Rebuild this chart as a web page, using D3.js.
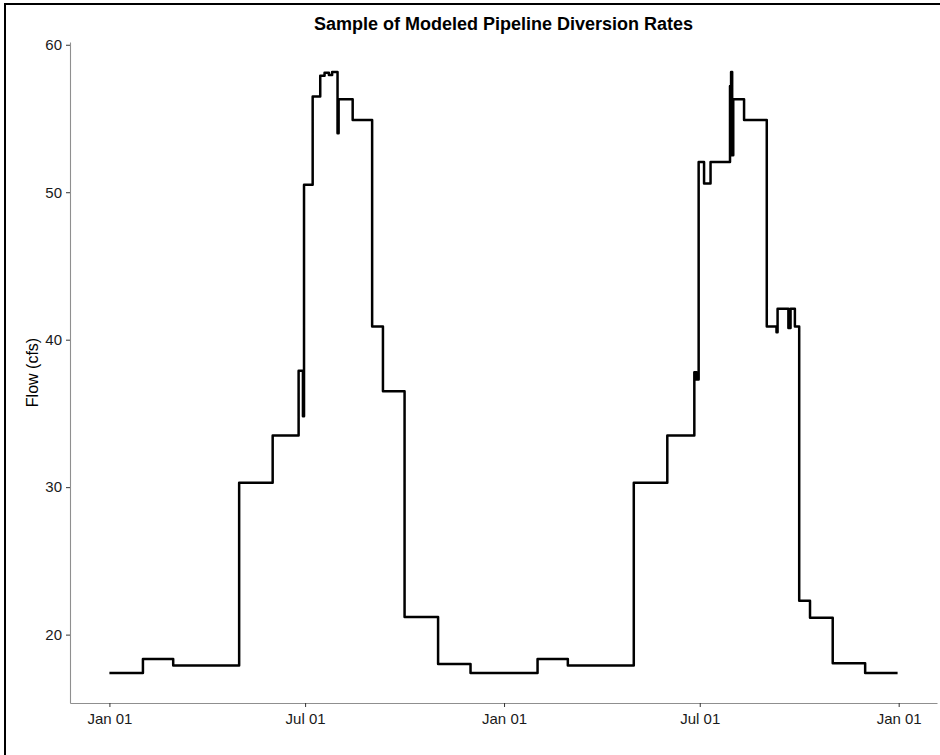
<!DOCTYPE html>
<html>
<head>
<meta charset="utf-8">
<script src="https://cdn.jsdelivr.net/npm/d3@7"></script>
<style>
  html, body { margin: 0; padding: 0; background: #fff; }
  svg { display: block; }
</style>
</head>
<body>
<svg id="chart" width="940" height="755"></svg>
<script>
// Modeled pipeline diversion (cfs): each entry starts a new flow level
const changeDates = [
  "2017-01-01", "2017-02-01", "2017-03-01", "2017-05-01", "2017-06-01",
  "2017-06-25", "2017-06-29", "2017-06-30", "2017-07-08", "2017-07-15",
  "2017-07-19", "2017-07-23", "2017-07-26", "2017-07-31", "2017-08-01",
  "2017-08-14", "2017-09-01", "2017-09-11", "2017-10-01", "2017-11-01",
  "2017-12-01",
  "2018-02-01", "2018-03-01", "2018-05-01", "2018-06-01", "2018-06-26",
  "2018-06-28", "2018-06-30", "2018-07-05", "2018-07-11", "2018-07-29",
  "2018-07-30", "2018-07-31", "2018-08-01", "2018-08-11", "2018-09-01",
  "2018-09-10", "2018-09-11", "2018-09-21", "2018-09-23", "2018-09-27",
  "2018-10-01", "2018-10-11", "2018-11-01", "2018-12-01", "2018-12-31"
];
const flowValues = [
  17.4, 18.35, 17.9, 30.3, 33.5,
  37.9, 34.8, 50.5, 56.5, 57.9,
  58.1, 57.95, 58.15, 54.0, 56.3,
  54.9, 40.9, 36.5, 21.2, 18.0,
  17.4,
  18.35, 17.9, 30.3, 33.5, 37.8,
  37.3, 52.05, 50.6, 52.05, 57.2,
  58.15, 52.5, 56.3, 54.9, 40.9,
  40.5, 42.1, 40.8, 42.1, 40.9,
  22.3, 21.15, 18.05, 17.4, 17.4
];
const xTickDates = ["2017-01-01", "2017-07-01", "2018-01-01", "2018-07-01", "2019-01-01"];
const yTickValues = [20, 30, 40, 50, 60];
const titleText = "Sample of Modeled Pipeline Diversion Rates";
const yTitleText = "Flow (cfs)";

const parse = d3.utcParse("%Y-%m-%d");
const series = changeDates.map((d, i) => ({ date: parse(d), flow: flowValues[i] }));

const svg = d3.select("#chart");
const panel = { left: 70, right: 937, top: 42, bottom: 703 };

// outer frame
svg.append("rect")
  .attr("x", 5).attr("y", 4)
  .attr("width", 1200).attr("height", 1200)
  .attr("fill", "none").attr("stroke", "#000").attr("stroke-width", 2);

// scales with 5% padding on both ends of the data range
const xExt = d3.extent(series, d => d.date);
const xPad = (xExt[1] - xExt[0]) * 0.05;
const x = d3.scaleUtc()
  .domain([new Date(+xExt[0] - xPad), new Date(+xExt[1] + xPad)])
  .range([panel.left, panel.right]);

const yExt = d3.extent(series, d => d.flow);
const yPad = (yExt[1] - yExt[0]) * 0.05;
const y = d3.scaleLinear()
  .domain([yExt[0] - yPad, yExt[1] + yPad])
  .range([panel.bottom, panel.top]);

const fontFamily = "'Liberation Sans', Arial, sans-serif";

// x axis
const xAxis = d3.axisBottom(x)
  .tickValues(xTickDates.map(parse))
  .tickFormat(d3.utcFormat("%b %d"))
  .tickSizeInner(4).tickSizeOuter(0).tickPadding(6);
const gx = svg.append("g")
  .attr("transform", `translate(0,${panel.bottom})`)
  .call(xAxis);
gx.select(".domain").attr("stroke", "#8f8f8f").attr("stroke-width", 1.1);
gx.selectAll(".tick line").attr("stroke", "#333");
gx.selectAll(".tick text")
  .attr("fill", "#1a1a1a")
  .style("font-family", fontFamily).style("font-size", "15px");

// y axis
const yAxis = d3.axisLeft(y)
  .tickValues(yTickValues)
  .tickSizeInner(4).tickSizeOuter(0).tickPadding(4);
const gy = svg.append("g")
  .attr("transform", `translate(${panel.left},0)`)
  .call(yAxis);
gy.select(".domain").attr("stroke", "#8f8f8f").attr("stroke-width", 1.1);
gy.selectAll(".tick line").attr("stroke", "#333");
gy.selectAll(".tick text")
  .attr("fill", "#1a1a1a")
  .style("font-family", fontFamily).style("font-size", "15px");

// flow line
const line = d3.line()
  .x(d => x(d.date))
  .y(d => y(d.flow))
  .curve(d3.curveStepAfter);
svg.append("path")
  .datum(series)
  .attr("d", line)
  .attr("fill", "none")
  .attr("stroke", "#000")
  .attr("stroke-width", 2.5)
  .attr("stroke-linejoin", "round");

// title
svg.append("text")
  .attr("x", (panel.left + panel.right) / 2)
  .attr("y", 30)
  .attr("text-anchor", "middle")
  .style("font-family", fontFamily)
  .style("font-size", "18px")
  .style("font-weight", "bold")
  .attr("fill", "#000")
  .text(titleText);

// y axis title
svg.append("text")
  .attr("transform", `translate(38,${(panel.top + panel.bottom) / 2}) rotate(-90)`)
  .attr("text-anchor", "middle")
  .style("font-family", fontFamily)
  .style("font-size", "16px")
  .attr("fill", "#000")
  .text(yTitleText);
</script>
</body>
</html>
